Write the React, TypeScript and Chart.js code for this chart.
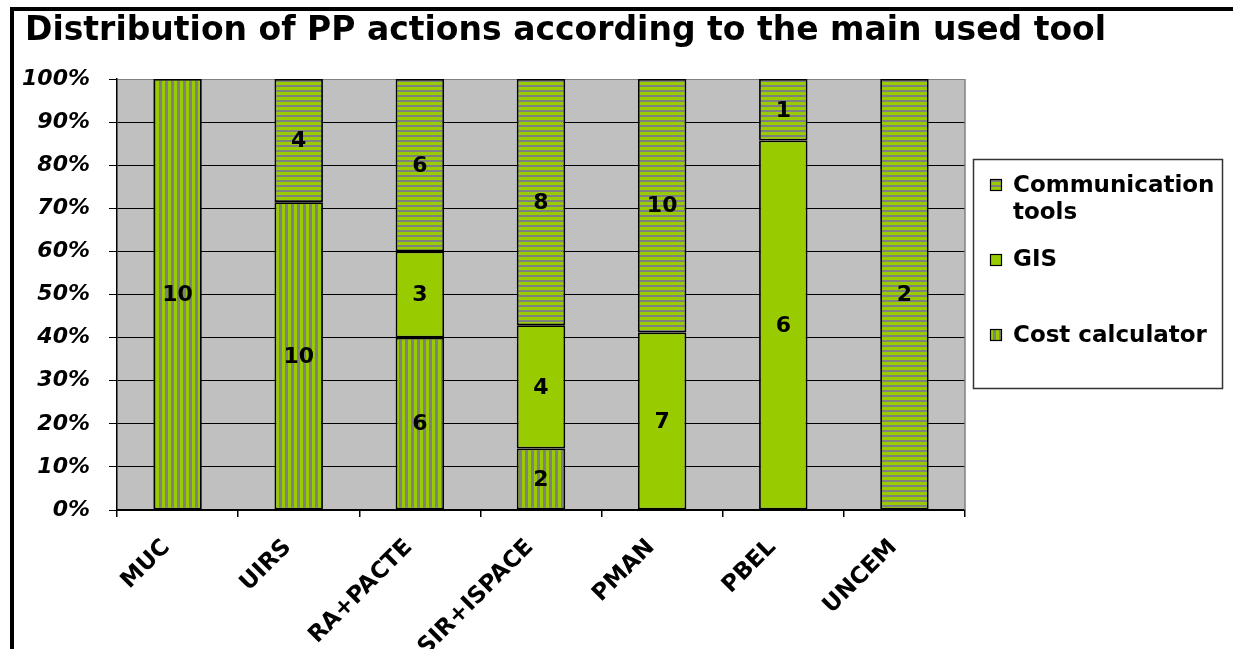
import React, { useEffect, useRef } from "react";
import { Chart, registerables } from "chart.js";

Chart.register(...registerables);

const titleText = "Distribution of PP actions according to the main used tool";
const categories = ["MUC", "UIRS", "RA+PACTE", "SIR+ISPACE", "PMAN", "PBEL", "UNCEM"];
const costCalculator = [10, 10, 6, 2, 0, 0, 0];
const gis = [0, 0, 3, 4, 7, 6, 0];
const communicationTools = [0, 4, 6, 8, 10, 1, 2];
const seriesNames = ["Cost calculator", "GIS", "Communication tools"];
const legendLines = [["Communication", "tools"], ["GIS"], ["Cost calculator"]];

const GREEN = "#99CC00";
const STRIPE_GRAY = "#808080";
const PLOT_BG = "#C0C0C0";
const FONT = "'DejaVu Sans', 'Liberation Sans', sans-serif";

function makePattern(vertical: boolean): CanvasPattern | string {
  const c = document.createElement("canvas");
  if (vertical) {
    c.width = 6;
    c.height = 6;
  } else {
    c.width = 6;
    c.height = 5;
  }
  const x = c.getContext("2d");
  if (!x) return GREEN;
  x.fillStyle = GREEN;
  x.fillRect(0, 0, c.width, c.height);
  x.fillStyle = STRIPE_GRAY;
  if (vertical) x.fillRect(3, 0, 3, 6);
  else x.fillRect(0, 0, 6, 2);
  const ctx2 = document.createElement("canvas").getContext("2d");
  return (ctx2 && ctx2.createPattern(c, "repeat")) || GREEN;
}

export default function App() {
  const ref = useRef<HTMLCanvasElement | null>(null);

  useEffect(() => {
    const canvas = ref.current;
    if (!canvas) return;
    const vPattern = makePattern(true);
    const hPattern = makePattern(false);
    const totals = categories.map((_, i) => costCalculator[i] + gis[i] + communicationTools[i]);
    const pct = (arr: number[]) => arr.map((v, i) => (v / totals[i]) * 100);
    const counts = [costCalculator, gis, communicationTools];
    const fills = [vPattern, GREEN, hPattern];

    const bgPlugin = {
      id: "plotBg",
      beforeDraw(chart: any) {
        const { ctx, chartArea: a } = chart;
        ctx.save();
        ctx.fillStyle = PLOT_BG;
        ctx.fillRect(a.left, a.top, a.right - a.left, a.bottom - a.top);
        ctx.restore();
      },
      beforeDatasetsDraw(chart: any) {
        const { ctx, chartArea: a } = chart;
        ctx.save();
        ctx.strokeStyle = "#808080";
        ctx.lineWidth = 1.5;
        ctx.beginPath();
        ctx.moveTo(a.right, a.top);
        ctx.lineTo(a.right, a.bottom);
        ctx.stroke();
        ctx.restore();
      },
    };

    const overlayPlugin = {
      id: "overlay",
      afterDraw(chart: any) {
        const ctx = chart.ctx;
        ctx.save();
        // data labels
        ctx.fillStyle = "#000";
        ctx.font = `bold 22px ${FONT}`;
        ctx.textAlign = "center";
        ctx.textBaseline = "middle";
        chart.data.datasets.forEach((_: any, di: number) => {
          const meta = chart.getDatasetMeta(di);
          meta.data.forEach((el: any, i: number) => {
            const v = counts[di][i];
            if (!v) return;
            ctx.fillText(String(v), el.x, (el.y + el.base) / 2 + 1);
          });
        });
        // title
        ctx.textAlign = "left";
        ctx.textBaseline = "alphabetic";
        ctx.font = `bold 33px ${FONT}`;
        ctx.fillText(titleText, 25, 40);
        // legend box
        ctx.strokeStyle = "#333";
        ctx.lineWidth = 1.5;
        ctx.strokeRect(973.5, 159.5, 249, 229);
        const markerY = [179, 254, 329];
        const textY = [[192, 219], [266], [342]];
        const legendFills = [hPattern, GREEN, vPattern];
        ctx.font = `bold 23px ${FONT}`;
        legendLines.forEach((lines, k) => {
          ctx.fillStyle = legendFills[k];
          ctx.fillRect(990, markerY[k], 12, 12);
          ctx.strokeStyle = "#000";
          ctx.lineWidth = 1.2;
          ctx.strokeRect(990.5, markerY[k] + 0.5, 11, 11);
          ctx.fillStyle = "#000";
          lines.forEach((ln, j) => ctx.fillText(ln, 1013, textY[k][j]));
        });
        ctx.restore();
      },
    };

    const chart = new Chart(canvas, {
      type: "bar",
      data: {
        labels: categories,
        datasets: [
          { label: seriesNames[0], data: pct(costCalculator) },
          { label: seriesNames[1], data: pct(gis) },
          { label: seriesNames[2], data: pct(communicationTools) },
        ].map((d, k) => ({
          ...d,
          backgroundColor: fills[k] as any,
          borderColor: "#000",
          borderWidth: 1.8,
          borderSkipped: false as any,
          categoryPercentage: 1,
          barPercentage: 0.4,
        })),
      },
      options: {
        animation: false,
        responsive: false,
        devicePixelRatio: 1,
        layout: { padding: { top: 79, right: 268, left: 0, bottom: 0 } },
        plugins: {
          legend: { display: false },
          title: { display: false },
          tooltip: { enabled: false },
        },
        scales: {
          x: {
            stacked: true,
            grid: {
              offset: true,
              drawOnChartArea: false,
              drawTicks: true,
              tickLength: 7,
              color: "#000",
              lineWidth: 1.5,
            },
            border: { display: true, color: "#000", width: 1.5 },
            ticks: {
              autoSkip: false,
              maxRotation: 45,
              minRotation: 45,
              padding: 17,
              labelOffset: -11,
              color: "#000",
              font: { family: FONT, size: 23, weight: "bold" },
            },
            afterFit: (s: any) => {
              s.height = 139;
              s.paddingLeft = 0;
              s.paddingRight = 0;
            },
          },
          y: {
            stacked: true,
            min: 0,
            max: 100,
            ticks: {
              stepSize: 10,
              padding: 19,
              color: "#000",
              callback: (v: any) => v + "%",
              font: { family: FONT, size: 22, weight: "bold", style: "italic" },
            },
            grid: {
              color: (c: any) => (c.tick && c.tick.value === 100 ? "#808080" : "#000"),
              tickColor: "#000",
              tickLength: 8,
              lineWidth: 1,
            },
            border: { display: true, color: "#000", width: 1.5 },
            afterFit: (s: any) => {
              s.width = 117;
              s.paddingTop = 0;
              s.paddingBottom = 0;
            },
          },
        },
      },
      plugins: [bgPlugin, overlayPlugin],
    });
    return () => chart.destroy();
  }, []);

  return (
    <div style={{ position: "fixed", left: 0, top: 0, width: 1233, height: 649, background: "#fff", overflow: "hidden" }}>
      <canvas ref={ref} width={1233} height={649} style={{ position: "absolute", left: 0, top: 0, width: 1233, height: 649 }} />
      <div
        style={{
          position: "absolute",
          left: 10,
          top: 7,
          width: 1300,
          height: 700,
          borderTop: "4px solid #000",
          borderLeft: "4px solid #000",
          pointerEvents: "none",
        }}
      />
    </div>
  );
}
